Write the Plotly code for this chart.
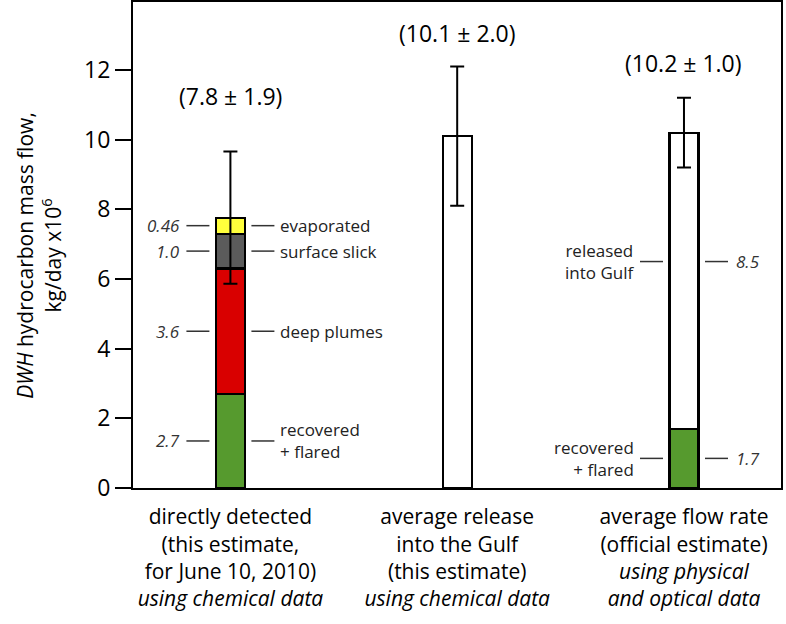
import plotly.graph_objects as go

# ---- data ----
categories = [
    "directly detected<br>(this estimate,<br>for June 10, 2010)<br><i>using chemical data</i>",
    "average release<br>into the Gulf<br>(this estimate)<br><i>using chemical data</i>",
    "average flow rate<br>(official estimate)<br><i>using physical</i><br><i>and optical data</i>",
]
x_pos = [0, 1, 2]
recovered = [2.7, None, 1.7]
deep_plumes = [3.6, None, None]
surface_slick = [1.0, None, None]
evaporated = [0.46, None, None]
released = [None, 10.1, 8.5]
errors = [1.9, 2.0, 1.0]
total_labels = ["(7.8 ± 1.9)", "(10.1 ± 2.0)", "(10.2 ± 1.0)"]
total_label_y = [11.25, 13.05, 12.2]

# segment annotations for bar 1 (left: value, right: name)
bar1_values = ["2.7", "3.6", "1.0", "0.46"]
bar1_names = ["recovered<br>+ flared", "deep plumes", "surface slick", "evaporated"]
bar1_segments = [2.7, 3.6, 1.0, 0.46]
# segment annotations for bar 3 (left: name, right: value)
bar3_names = ["recovered<br>+ flared", "released<br>into Gulf"]
bar3_values = ["1.7", "8.5"]
bar3_label_y = [0.85, 6.5]

series = [
    ("recovered + flared", recovered, "#569a2e"),
    ("deep plumes", deep_plumes, "#d90000"),
    ("surface slick", surface_slick, "#5b5b5b"),
    ("evaporated", evaporated, "#ffff3c"),
    ("released into Gulf", released, "#ffffff"),
]

def tot(i):
    return sum(v[i] for _, v, _ in series if v[i] is not None)

totals = [tot(i) for i in range(len(x_pos))]

FONT = "Open Sans"
fig = go.Figure()
for name, vals, col in series:
    fig.add_trace(go.Bar(x=x_pos, y=vals, name=name, width=0.128,
                         marker=dict(color=col, line=dict(color="black", width=2.2)),
                         showlegend=False, hoverinfo="skip"))

fig.add_trace(go.Scatter(x=x_pos, y=totals, mode="markers",
                         marker=dict(size=1, color="rgba(0,0,0,0)"),
                         error_y=dict(type="data", array=errors, color="black",
                                      thickness=2, width=7),
                         showlegend=False, hoverinfo="skip"))

ann = []
shapes = []
for i, lab in enumerate(total_labels):
    ann.append(dict(x=x_pos[i], y=total_label_y[i], xref="x", yref="y", text=lab,
                    showarrow=False, font=dict(size=23, color="black", family=FONT),
                    xanchor="center", yanchor="middle"))

def dash(xc, y, side, color="#333"):
    if side == "left":
        x0, x1 = -44, -21
    else:
        x0, x1 = 21, 44
    shapes.append(dict(type="line", xref="x", yref="y", xsizemode="pixel",
                       xanchor=xc, x0=x0, x1=x1, y0=y, y1=y,
                       line=dict(color=color, width=1.5)))

cum = 0
for v, val_txt, nm in zip(bar1_segments, bar1_values, bar1_names):
    mid = cum + v / 2
    cum += v
    ann.append(dict(x=x_pos[0], y=mid, xref="x", yref="y", text="<i>" + val_txt + "</i>",
                    showarrow=False, xanchor="right", xshift=-48, yanchor="middle",
                    font=dict(size=17, color="#333", family=FONT)))
    ann.append(dict(x=x_pos[0], y=mid, xref="x", yref="y", text=nm, align="left",
                    showarrow=False, xanchor="left", xshift=48, yanchor="middle",
                    font=dict(size=17, color="#222", family=FONT)))
    dash(x_pos[0], mid, "left")
    dash(x_pos[0], mid, "right")

for y, nm, val_txt in zip(bar3_label_y, bar3_names, bar3_values):
    ann.append(dict(x=x_pos[2], y=y, xref="x", yref="y", text=nm, align="right",
                    showarrow=False, xanchor="right", xshift=-48, yanchor="middle",
                    font=dict(size=17, color="#222", family=FONT)))
    ann.append(dict(x=x_pos[2], y=y, xref="x", yref="y", text="<i>" + val_txt + "</i>",
                    showarrow=False, xanchor="left", xshift=50, yanchor="middle",
                    font=dict(size=17, color="#333", family=FONT)))
    dash(x_pos[2], y, "left")
    dash(x_pos[2], y, "right")

ann.append(dict(x=-0.145, y=0.478, xref="paper", yref="paper", textangle=-90,
                text="<i>DWH</i> hydrocarbon mass flow,<br>kg/day x10<sup>6</sup>",
                showarrow=False, xanchor="center", yanchor="middle",
                font=dict(size=21, color="black", family=FONT)))

fig.update_layout(
    width=786, height=624,
    margin=dict(l=133, r=5, t=2, b=136),
    paper_bgcolor="white", plot_bgcolor="white",
    barmode="stack",
    font=dict(family=FONT, color="black"),
    annotations=ann, shapes=shapes,
    xaxis=dict(range=[-0.4295, 2.4278], tickvals=x_pos, ticktext=categories,
               showgrid=False, zeroline=False, showline=True, linecolor="black",
               linewidth=2, mirror=True, ticks="", tickfont=dict(size=21, color="black"),
               tickangle=0, automargin=False, ticklabelstandoff=9),
    yaxis=dict(range=[0, 13.95], tickvals=[0, 2, 4, 6, 8, 10, 12],
               showgrid=False, zeroline=False, showline=True, linecolor="black",
               linewidth=2, mirror=True, ticks="outside", ticklen=16, tickwidth=2,
               tickcolor="black", tickfont=dict(size=23, color="black"),
               automargin=False),
)

fig.write_html("out.html", config={"displayModeBar": False},
               post_script="document.body.style.margin='0';document.body.style.padding='0';")
